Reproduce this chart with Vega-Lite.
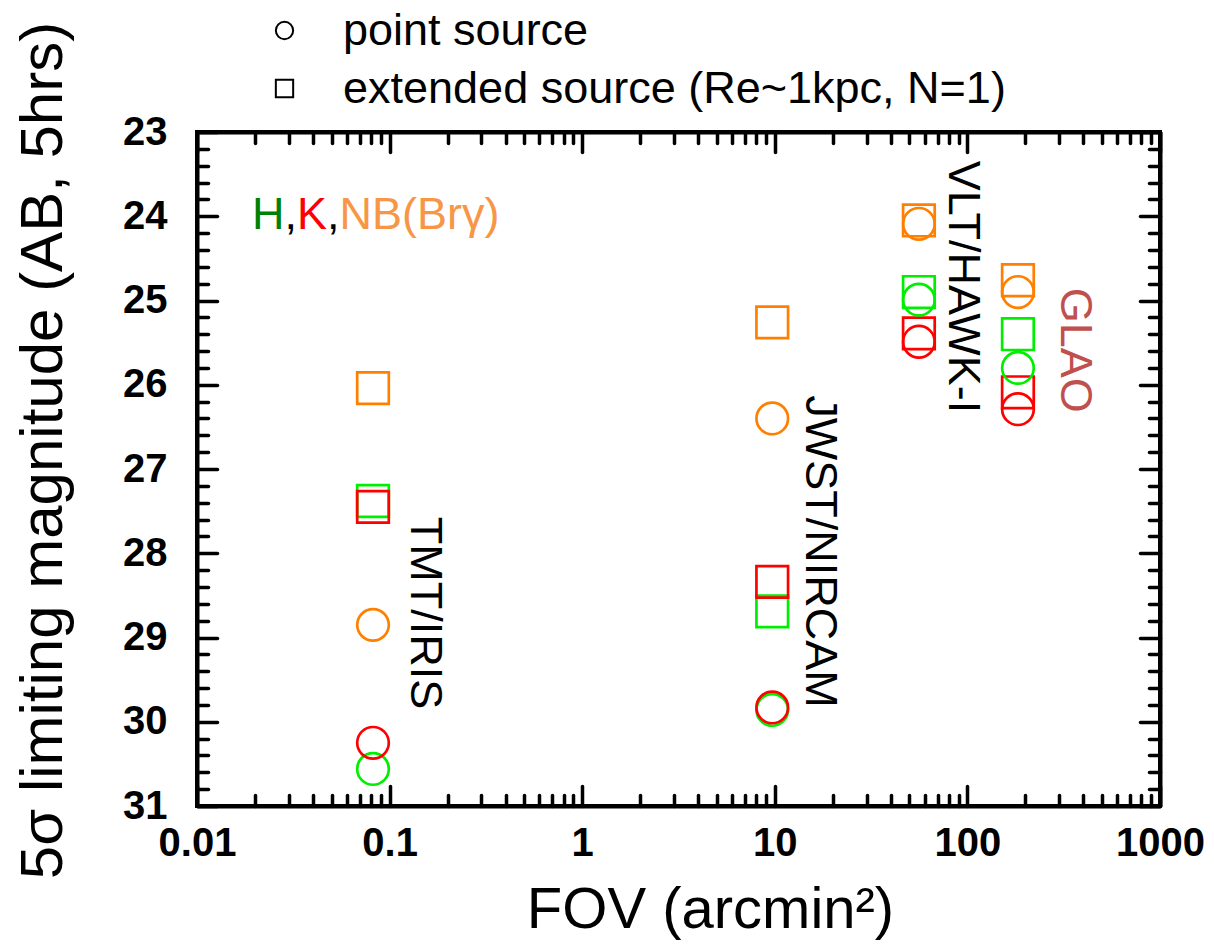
{
  "$schema": "https://vega.github.io/schema/vega-lite/v6.json",
  "autosize": "none",
  "width": 963,
  "height": 674,
  "padding": {"left": 197, "top": 132, "right": 54, "bottom": 139},
  "background": "white",
  "config": {
    "view": {"stroke": "black", "strokeWidth": 4},
    "font": "Liberation Sans"
  },
  "datasets": {
    "pts": [
      {"fov": 0.082, "mag": 27.38, "band": "H", "source": "extended source (Re~1kpc, N=1)"},
      {"fov": 0.082, "mag": 27.45, "band": "K", "source": "extended source (Re~1kpc, N=1)"},
      {"fov": 0.082, "mag": 26.04, "band": "NB", "source": "extended source (Re~1kpc, N=1)"},
      {"fov": 0.082, "mag": 30.56, "band": "H", "source": "point source"},
      {"fov": 0.082, "mag": 30.25, "band": "K", "source": "point source"},
      {"fov": 0.082, "mag": 28.85, "band": "NB", "source": "point source"},
      {"fov": 9.7, "mag": 28.69, "band": "H", "source": "extended source (Re~1kpc, N=1)"},
      {"fov": 9.7, "mag": 28.34, "band": "K", "source": "extended source (Re~1kpc, N=1)"},
      {"fov": 9.7, "mag": 25.26, "band": "NB", "source": "extended source (Re~1kpc, N=1)"},
      {"fov": 9.7, "mag": 29.86, "band": "H", "source": "point source"},
      {"fov": 9.7, "mag": 29.83, "band": "K", "source": "point source"},
      {"fov": 9.7, "mag": 26.40, "band": "NB", "source": "point source"},
      {"fov": 56, "mag": 24.90, "band": "H", "source": "extended source (Re~1kpc, N=1)"},
      {"fov": 56, "mag": 25.39, "band": "K", "source": "extended source (Re~1kpc, N=1)"},
      {"fov": 56, "mag": 24.05, "band": "NB", "source": "extended source (Re~1kpc, N=1)"},
      {"fov": 56, "mag": 24.99, "band": "H", "source": "point source"},
      {"fov": 56, "mag": 25.49, "band": "K", "source": "point source"},
      {"fov": 56, "mag": 24.09, "band": "NB", "source": "point source"},
      {"fov": 183, "mag": 25.40, "band": "H", "source": "extended source (Re~1kpc, N=1)"},
      {"fov": 183, "mag": 26.09, "band": "K", "source": "extended source (Re~1kpc, N=1)"},
      {"fov": 183, "mag": 24.76, "band": "NB", "source": "extended source (Re~1kpc, N=1)"},
      {"fov": 183, "mag": 25.80, "band": "H", "source": "point source"},
      {"fov": 183, "mag": 26.29, "band": "K", "source": "point source"},
      {"fov": 183, "mag": 24.90, "band": "NB", "source": "point source"}
    ],
    "inst": [
      {"fov": 0.153, "mag": 28.71, "label": "TMT/IRIS", "kind": "inst"},
      {"fov": 17.2, "mag": 27.98, "label": "JWST/NIRCAM", "kind": "inst"},
      {"fov": 94.9, "mag": 24.84, "label": "VLT/HAWK-I", "kind": "inst"},
      {"fov": 362, "mag": 25.59, "label": "GLAO", "kind": "GLAO"}
    ],
    "bands": [
      {"fov": 0.0193, "mag": 24.15, "label": "H", "kind": "H"},
      {"fov": 0.02846, "mag": 24.15, "label": ",", "kind": "sep"},
      {"fov": 0.03305, "mag": 24.15, "label": "K", "kind": "K"},
      {"fov": 0.04732, "mag": 24.15, "label": ",", "kind": "sep"},
      {"fov": 0.05494, "mag": 24.15, "label": "NB(Brγ)", "kind": "NB"}
    ]
  },
  "layer": [
    {
      "layer": [
        {
          "data": {"name": "pts"},
          "mark": {"type": "point", "filled": false, "strokeWidth": 2.7, "opacity": 1, "size": 1000},
          "encoding": {
            "x": {
              "field": "fov", "type": "quantitative",
              "scale": {"type": "log", "domain": [0.01, 1000], "nice": false},
              "axis": {
                "orient": "bottom",
                "values": [0.01, 0.1, 1, 10, 100, 1000],
                "grid": false,
                "domain": true, "domainColor": "black", "domainWidth": 4,
                "ticks": true, "tickColor": "black", "tickWidth": 3.5, "tickCap": "round", "tickSize": -20,
                "labelExpr": "'' + datum.value",
                "labelFont": "Liberation Sans", "labelFontWeight": "bold", "labelFontSize": 40,
                "labelColor": "black", "labelPadding": 37, "labelFlush": false, "labelOverlap": false,
                "labelBaseline": "top",
                "title": "FOV (arcmin²)", "titleFont": "Liberation Sans", "titleFontSize": 58,
                "titleFontWeight": "normal", "titleColor": "black",
                "titleX": 513, "titleY": 104, "titleBaseline": "middle", "titleAlign": "center", "titleAnchor": null
              }
            },
            "y": {
              "field": "mag", "type": "quantitative",
              "scale": {"domain": [23, 31], "reverse": true, "nice": false, "zero": false},
              "axis": {
                "orient": "left",
                "values": [23, 24, 25, 26, 27, 28, 29, 30, 31],
                "grid": false,
                "domain": true, "domainColor": "black", "domainWidth": 4,
                "ticks": true, "tickColor": "black", "tickWidth": 3.5, "tickCap": "round", "tickSize": -20,
                "labelExpr": "'' + datum.value",
                "labelFont": "Liberation Sans", "labelFontWeight": "bold", "labelFontSize": 40,
                "labelColor": "black", "labelPadding": 50, "labelFlush": false, "labelOverlap": false,
                "labelBaseline": "middle",
                "title": "5σ limiting magnitude (AB, 5hrs)", "titleFont": "Liberation Sans", "titleFontSize": 60,
                "titleFontWeight": "normal", "titleColor": "black",
                "titleX": -154, "titleY": 318, "titleAngle": -90, "titleBaseline": "middle", "titleAlign": "center", "titleAnchor": null
              }
            },
            "stroke": {
              "field": "band", "type": "nominal",
              "scale": {"domain": ["H", "K", "NB"], "range": ["#00ee00", "#ff0000", "#ff8000"]},
              "legend": null
            },
            "shape": {
              "field": "source", "type": "nominal",
              "scale": {"domain": ["point source", "extended source (Re~1kpc, N=1)"], "range": ["circle", "square"]},
              "legend": {
                "orient": "none", "legendX": 65, "legendY": -124, "direction": "vertical",
                "title": null, "padding": 0,
                "symbolSize": 300, "symbolStrokeColor": "black", "symbolStrokeWidth": 2, "symbolFillColor": "transparent",
                "labelFont": "Liberation Sans", "labelFontSize": 45, "labelColor": "black",
                "labelOffset": 36, "rowPadding": 12, "labelLimit": 1000
              }
            }
          }
        },
        {
          "data": {"name": "inst"},
          "mark": {"type": "text", "angle": 90, "align": "center", "baseline": "middle", "font": "Liberation Sans", "fontSize": 45},
          "encoding": {
            "x": {"field": "fov", "type": "quantitative"},
            "y": {"field": "mag", "type": "quantitative"},
            "text": {"field": "label"},
            "fill": {
              "field": "kind", "type": "nominal",
              "scale": {"domain": ["H", "sep", "K", "NB", "inst", "GLAO"], "range": ["#008000", "#000000", "#ff0000", "#F79646", "#000000", "#C0504D"]},
              "legend": null
            }
          }
        },
        {
          "data": {"name": "bands"},
          "mark": {"type": "text", "align": "left", "baseline": "alphabetic", "font": "Liberation Sans", "fontSize": 45},
          "encoding": {
            "x": {"field": "fov", "type": "quantitative"},
            "y": {"field": "mag", "type": "quantitative"},
            "text": {"field": "label"},
            "fill": {"field": "kind", "type": "nominal", "legend": null}
          }
        }
      ]
    },
    {
      "data": {"name": "pts"},
      "mark": {"type": "point", "opacity": 0},
      "encoding": {
        "x": {
          "field": "fov", "type": "quantitative",
          "scale": {"type": "log", "domain": [0.01, 1000], "nice": false},
          "axis": {
            "orient": "bottom",
            "values": [0.02,0.03,0.04,0.05,0.06,0.07,0.08,0.09,0.2,0.3,0.4,0.5,0.6,0.7,0.8,0.9,2,3,4,5,6,7,8,9,20,30,40,50,60,70,80,90,200,300,400,500,600,700,800,900],
            "grid": false, "labels": false, "title": null, "domain": false,
            "ticks": true, "tickColor": "black", "tickWidth": 3.5, "tickCap": "round", "tickSize": -11
          }
        },
        "y": {
          "field": "mag", "type": "quantitative",
          "scale": {"domain": [23, 31], "reverse": true, "nice": false, "zero": false},
          "axis": {
            "orient": "left",
            "values": [23.2,23.4,23.6,23.8,24.2,24.4,24.6,24.8,25.2,25.4,25.6,25.8,26.2,26.4,26.6,26.8,27.2,27.4,27.6,27.8,28.2,28.4,28.6,28.8,29.2,29.4,29.6,29.8,30.2,30.4,30.6,30.8],
            "grid": false, "labels": false, "title": null, "domain": false,
            "ticks": true, "tickColor": "black", "tickWidth": 3.5, "tickCap": "round", "tickSize": -11
          }
        }
      }
    },
    {
      "data": {"name": "pts"},
      "mark": {"type": "point", "opacity": 0},
      "encoding": {
        "x": {
          "field": "fov", "type": "quantitative",
          "scale": {"type": "log", "domain": [0.01, 1000], "nice": false},
          "axis": {
            "orient": "top",
            "values": [0.01,0.02,0.03,0.04,0.05,0.06,0.07,0.08,0.09,0.1,0.2,0.3,0.4,0.5,0.6,0.7,0.8,0.9,1,2,3,4,5,6,7,8,9,10,20,30,40,50,60,70,80,90,100,200,300,400,500,600,700,800,900,1000],
            "grid": false, "labels": false, "title": null,
            "domain": true, "domainColor": "black", "domainWidth": 4,
            "ticks": true, "tickColor": "black", "tickWidth": 3.5, "tickCap": "round",
            "tickSize": {"condition": {"test": "indexof([0.01,0.1,1,10,100,1000], datum.value) >= 0", "value": -20}, "value": -11}
          }
        },
        "y": {
          "field": "mag", "type": "quantitative",
          "scale": {"domain": [23, 31], "reverse": true, "nice": false, "zero": false},
          "axis": {
            "orient": "right",
            "values": [23,23.2,23.4,23.6,23.8,24,24.2,24.4,24.6,24.8,25,25.2,25.4,25.6,25.8,26,26.2,26.4,26.6,26.8,27,27.2,27.4,27.6,27.8,28,28.2,28.4,28.6,28.8,29,29.2,29.4,29.6,29.8,30,30.2,30.4,30.6,30.8,31],
            "grid": false, "labels": false, "title": null,
            "domain": true, "domainColor": "black", "domainWidth": 4,
            "ticks": true, "tickColor": "black", "tickWidth": 3.5, "tickCap": "round",
            "tickSize": {"condition": {"test": "datum.value % 1 === 0", "value": -20}, "value": -11}
          }
        }
      }
    }
  ],
  "resolve": {"scale": {"x": "independent", "y": "independent"}}
}
